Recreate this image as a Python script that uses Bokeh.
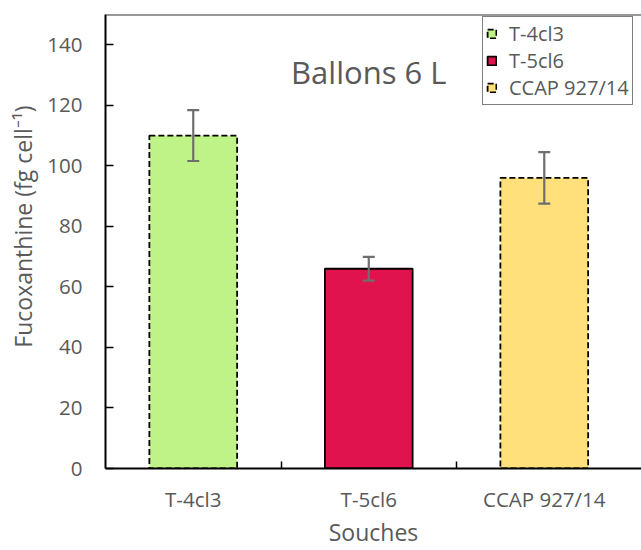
from bokeh.plotting import figure
from bokeh.models import (Whisker, TeeHead, FixedTicker, Span, Label, Legend,
                          LegendItem, Range1d, ColumnDataSource)
from bokeh.embed import file_html
from bokeh.resources import INLINE

categories = ["T-4cl3", "T-5cl6", "CCAP 927/14"]
values = [110, 66, 96]
errors = [8.4, 3.9, 8.5]
colors = ["#C0F387", "#E0134F", "#FFE07A"]
dashes = ["6 3", "solid", "6 3"]
y_ticks = [0, 20, 40, 60, 80, 100, 120, 140]

FONT = "Open Sans"
TXT = "#595959"

xs = [i + 0.5 for i in range(len(categories))]

p = figure(width=641, height=550, output_backend="svg", toolbar_location=None,
           x_range=Range1d(0, 3.054), y_range=Range1d(0, 150),
           min_border_left=105, min_border_right=0, min_border_top=14,
           min_border_bottom=82)
p.outline_line_color = None
p.grid.visible = False

items = []
for i, cat in enumerate(categories):
    src = ColumnDataSource(dict(x=[xs[i]], top=[values[i]]))
    r = p.vbar(x="x", top="top", width=0.5, source=src, fill_color=colors[i],
               line_color="black", line_width=1.8, line_dash=dashes[i])
    items.append(LegendItem(label=cat, renderers=[r]))

esrc = ColumnDataSource(dict(x=xs, upper=[v + e for v, e in zip(values, errors)],
                             lower=[v - e for v, e in zip(values, errors)]))
w = Whisker(source=esrc, base="x", upper="upper", lower="lower", level="overlay",
            line_color="#6E6E6E", line_width=2.2,
            upper_head=TeeHead(size=12, line_color="#6E6E6E", line_width=2.2),
            lower_head=TeeHead(size=12, line_color="#6E6E6E", line_width=2.2))
p.add_layout(w)

p.add_layout(Span(location=150, dimension="width", line_color="#333333", line_width=2))

# y axis
ya = p.yaxis[0]
ya.ticker = FixedTicker(ticks=y_ticks)
ya.major_tick_in = 8
ya.major_tick_out = 0
ya.minor_tick_line_color = None
ya.axis_line_width = 2
ya.major_tick_line_width = 1.5
ya.axis_line_color = "black"
ya.major_tick_line_color = "black"
ya.major_label_text_font = FONT
ya.major_label_text_font_size = "20.5px"
ya.major_label_text_color = TXT
ya.major_label_standoff = 23
ya.axis_label = "\u00a0" * 5 + "Fucoxanthine (fg cell\u207b\u00b9)"
ya.axis_label_text_font = FONT
ya.axis_label_text_font_size = "23px"
ya.axis_label_text_font_style = "normal"
ya.axis_label_text_color = TXT
ya.axis_label_standoff = 5

# x axis
xa = p.xaxis[0]
xa.ticker = FixedTicker(ticks=xs, minor_ticks=[1, 2])
xa.major_label_overrides = {x: c for x, c in zip(xs, categories)}
xa.major_tick_in = 0
xa.major_tick_out = 0
xa.minor_tick_in = 7
xa.minor_tick_out = 0
xa.minor_tick_line_color = "black"
xa.minor_tick_line_width = 1.5
xa.axis_line_width = 2
xa.axis_line_color = "black"
xa.major_label_text_font = FONT
xa.major_label_text_font_size = "20.5px"
xa.major_label_text_color = TXT
xa.major_label_standoff = 16
xa.axis_label = "Souches"
xa.axis_label_text_font = FONT
xa.axis_label_text_font_size = "23px"
xa.axis_label_text_font_style = "normal"
xa.axis_label_text_color = TXT
xa.axis_label_standoff = 0

p.add_layout(Label(x=1.5, y=131, text="Ballons 6 L", text_font=FONT,
                   text_font_size="31px", text_color=TXT, text_align="center",
                   text_baseline="alphabetic"))

legend = Legend(items=items, location=(377, 363), padding=3, margin=0,
                spacing=-2, glyph_width=11, glyph_height=11, label_height=20,
                label_standoff=12, label_text_font=FONT,
                label_text_font_size="20px", label_text_color=TXT,
                border_line_color="black", border_line_width=1.5,
                background_fill_alpha=1)
p.add_layout(legend)

open("out.html", "w").write(file_html(p, INLINE))
